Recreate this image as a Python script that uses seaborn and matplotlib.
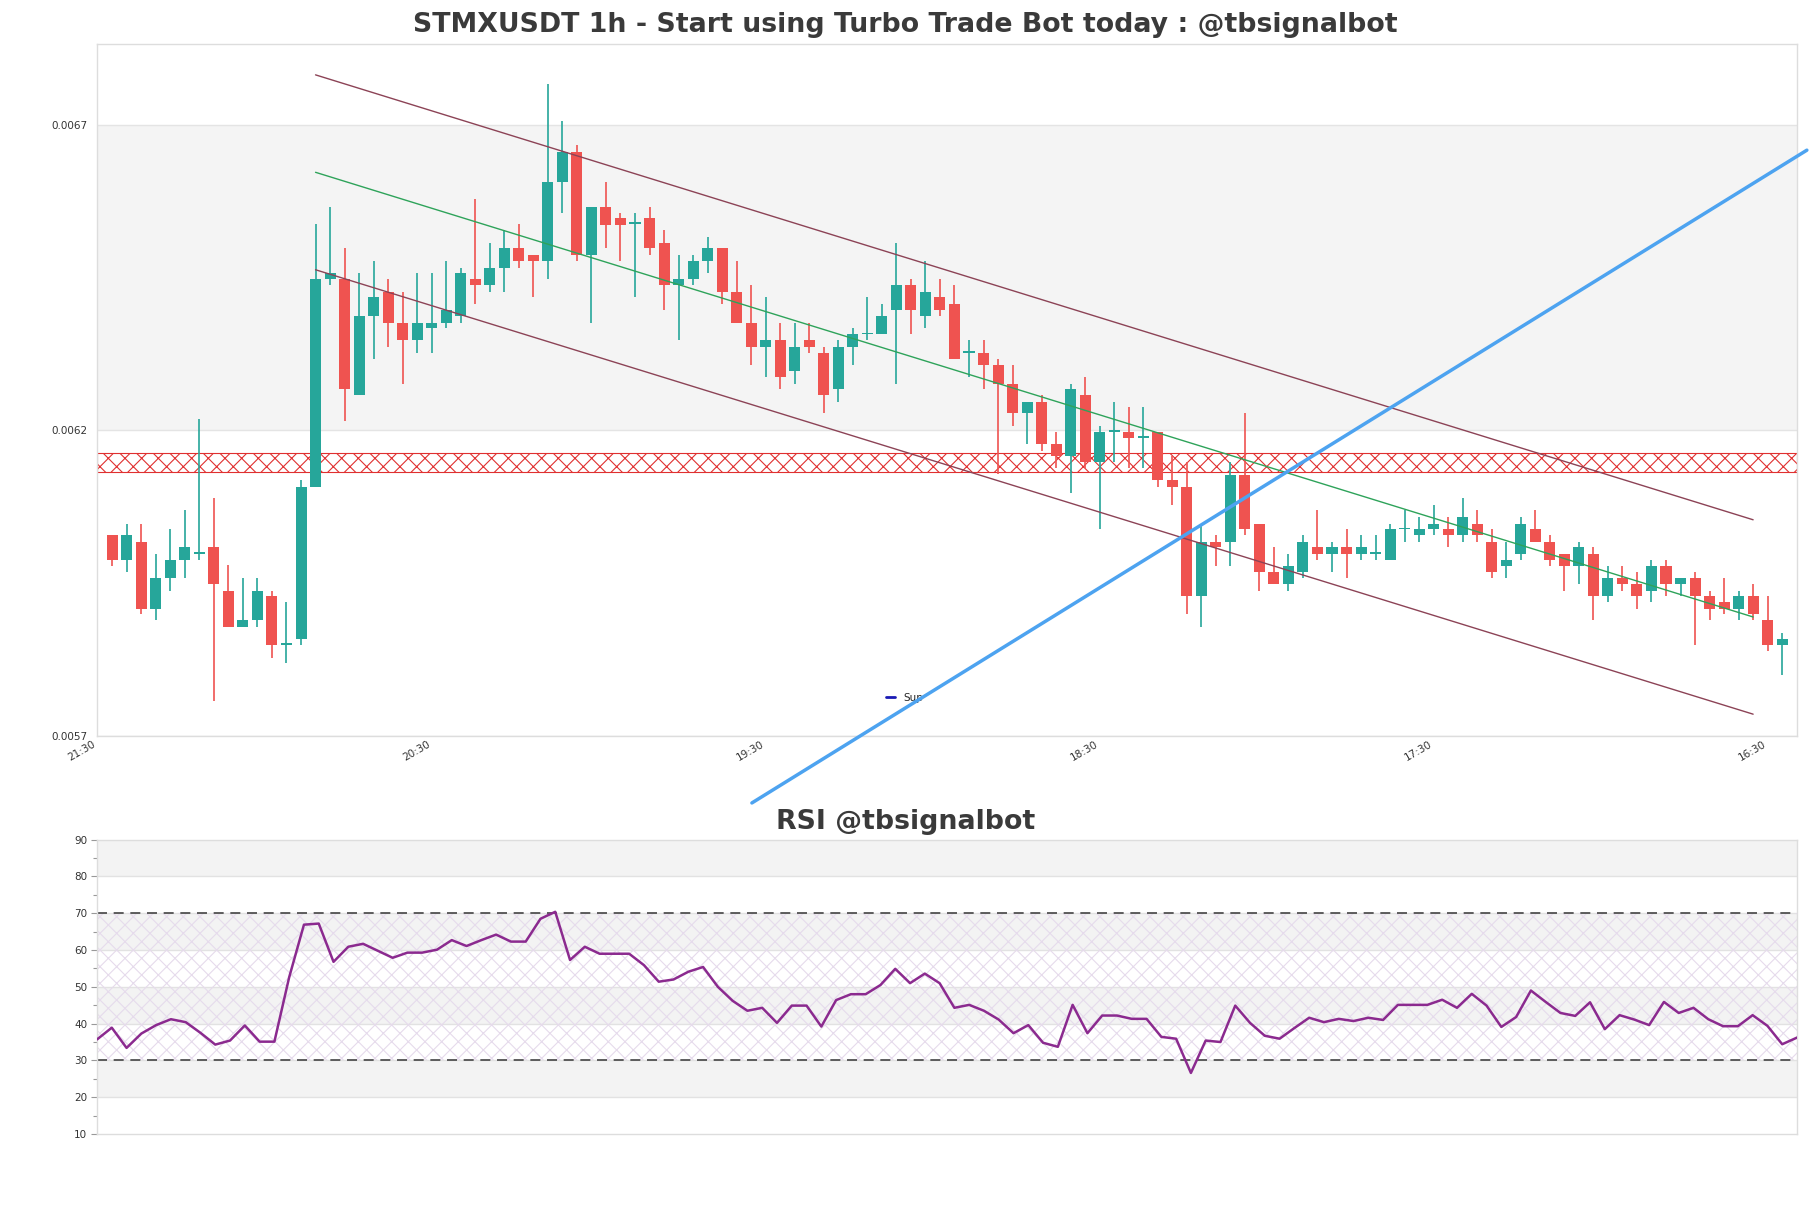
import numpy as np
import pandas as pd
import matplotlib
matplotlib.use("Agg")
import matplotlib.pyplot as plt
from matplotlib.lines import Line2D
import seaborn as sns

# ---------------- data ----------------
opens = [0.006028, 0.005988, 0.006018, 0.005908, 0.005958, 0.005988, 0.005998, 0.006009, 0.005938, 0.005878,
         0.005889, 0.005929, 0.005849, 0.005858, 0.006107, 0.006447, 0.006447, 0.006257, 0.006387, 0.006427,
         0.006376, 0.006347, 0.006367, 0.006376, 0.006387, 0.006447, 0.006437, 0.006466, 0.006498, 0.006487,
         0.006477, 0.006607, 0.006656, 0.006487, 0.006566, 0.006547, 0.006538, 0.006547, 0.006507, 0.006437,
         0.006447, 0.006477, 0.006498, 0.006427, 0.006376, 0.006337, 0.006347, 0.006297, 0.006347, 0.006327,
         0.006267, 0.006337, 0.006357, 0.006357, 0.006397, 0.006437, 0.006387, 0.006418, 0.006407, 0.006327,
         0.006327, 0.006307, 0.006276, 0.006228, 0.006247, 0.006177, 0.006158, 0.006257, 0.006148, 0.006198,
         0.006198, 0.006188, 0.006198, 0.006118, 0.006107, 0.005929, 0.006018, 0.006018, 0.006127, 0.006047,
         0.005969, 0.005948, 0.005969, 0.006009, 0.005998, 0.006009, 0.005998, 0.005998, 0.005988, 0.006038,
         0.006028, 0.006038, 0.006038, 0.006028, 0.006047, 0.006018, 0.005978, 0.005998, 0.006038, 0.006018,
         0.005998, 0.005978, 0.005998, 0.005929, 0.005958, 0.005948, 0.005938, 0.005978, 0.005948, 0.005958,
         0.005929, 0.005919, 0.005908, 0.005929, 0.005889, 0.005849]
highs = [0.006028, 0.006047, 0.006047, 0.005998, 0.006038, 0.006069, 0.006218, 0.006089, 0.005979, 0.005958,
         0.005958, 0.005938, 0.005919, 0.006118, 0.006538, 0.006566, 0.006498, 0.006457, 0.006477, 0.006447,
         0.006427, 0.006457, 0.006457, 0.006477, 0.006466, 0.006578, 0.006507, 0.006527, 0.006538, 0.006487,
         0.006766, 0.006706, 0.006666, 0.006566, 0.006607, 0.006556, 0.006556, 0.006566, 0.006527, 0.006487,
         0.006487, 0.006517, 0.006498, 0.006477, 0.006437, 0.006418, 0.006376, 0.006376, 0.006376, 0.006337,
         0.006347, 0.006367, 0.006418, 0.006407, 0.006507, 0.006447, 0.006477, 0.006447, 0.006437, 0.006347,
         0.006347, 0.006317, 0.006307, 0.006247, 0.006257, 0.006198, 0.006276, 0.006287, 0.006207, 0.006247,
         0.006238, 0.006238, 0.006198, 0.006158, 0.006148, 0.006047, 0.006028, 0.006148, 0.006228, 0.006047,
         0.006009, 0.005998, 0.006028, 0.006069, 0.006018, 0.006038, 0.006028, 0.006028, 0.006047, 0.006069,
         0.006058, 0.006078, 0.006058, 0.006089, 0.006069, 0.006038, 0.006018, 0.006058, 0.006069, 0.006028,
         0.005998, 0.006018, 0.006009, 0.005978, 0.005978, 0.005969, 0.005988, 0.005988, 0.005958, 0.005969,
         0.005938, 0.005958, 0.005938, 0.005948, 0.005929, 0.005868]
lows = [0.005978, 0.005969, 0.005899, 0.005889, 0.005938, 0.005958, 0.005988, 0.005758, 0.005878, 0.005878,
        0.005878, 0.005828, 0.005819, 0.005849, 0.006107, 0.006437, 0.006216, 0.006257, 0.006317, 0.006337,
        0.006276, 0.006327, 0.006327, 0.006367, 0.006376, 0.006407, 0.006427, 0.006427, 0.006466, 0.006418,
        0.006447, 0.006556, 0.006477, 0.006376, 0.006498, 0.006477, 0.006418, 0.006487, 0.006397, 0.006347,
        0.006437, 0.006457, 0.006407, 0.006376, 0.006307, 0.006287, 0.006267, 0.006276, 0.006327, 0.006228,
        0.006247, 0.006307, 0.006347, 0.006357, 0.006276, 0.006357, 0.006367, 0.006387, 0.006317, 0.006287,
        0.006267, 0.006129, 0.006207, 0.006177, 0.006167, 0.006138, 0.006098, 0.006138, 0.006038, 0.006148,
        0.006138, 0.006138, 0.006107, 0.006078, 0.005899, 0.005878, 0.005978, 0.005978, 0.006028, 0.005938,
        0.005948, 0.005938, 0.005958, 0.005988, 0.005969, 0.005958, 0.005988, 0.005988, 0.005988, 0.006018,
        0.006018, 0.006028, 0.006009, 0.006018, 0.006018, 0.005958, 0.005958, 0.005988, 0.006018, 0.005978,
        0.005938, 0.005948, 0.005889, 0.005919, 0.005938, 0.005908, 0.005919, 0.005929, 0.005929, 0.005849,
        0.005889, 0.005899, 0.005889, 0.005889, 0.005839, 0.005799]
closes = [0.005988, 0.006028, 0.005908, 0.005958, 0.005988, 0.006009, 0.005998, 0.005948, 0.005878, 0.005889,
          0.005938, 0.005849, 0.005849, 0.006107, 0.006447, 0.006457, 0.006267, 0.006387, 0.006418, 0.006376,
          0.006347, 0.006376, 0.006376, 0.006397, 0.006457, 0.006437, 0.006466, 0.006498, 0.006477, 0.006477,
          0.006607, 0.006656, 0.006487, 0.006566, 0.006536, 0.006536, 0.006538, 0.006498, 0.006437, 0.006447,
          0.006477, 0.006498, 0.006427, 0.006376, 0.006337, 0.006347, 0.006287, 0.006337, 0.006337, 0.006257,
          0.006337, 0.006357, 0.006357, 0.006387, 0.006437, 0.006397, 0.006427, 0.006397, 0.006317, 0.006327,
          0.006307, 0.006276, 0.006228, 0.006247, 0.006177, 0.006158, 0.006267, 0.006148, 0.006198, 0.006198,
          0.006188, 0.006188, 0.006118, 0.006107, 0.005929, 0.006018, 0.006009, 0.006127, 0.006038, 0.005969,
          0.005948, 0.005978, 0.006018, 0.005998, 0.006009, 0.005998, 0.006009, 0.005998, 0.006038, 0.006038,
          0.006038, 0.006047, 0.006028, 0.006058, 0.006028, 0.005969, 0.005988, 0.006047, 0.006018, 0.005988,
          0.005978, 0.006009, 0.005929, 0.005958, 0.005948, 0.005929, 0.005978, 0.005948, 0.005958, 0.005929,
          0.005908, 0.005908, 0.005929, 0.005899, 0.005849, 0.005858]

rsi = [35.7, 38.9, 33.4, 37.3, 39.6, 41.2, 40.4, 37.5, 34.3, 35.4,
       39.5, 35.1, 35.1, 52.6, 66.9, 67.2, 56.8, 60.9, 61.7, 59.8,
       57.9, 59.3, 59.3, 60.1, 62.7, 61.1, 62.7, 64.2, 62.3, 62.3,
       68.5, 70.4, 57.3, 60.9, 59.0, 59.0, 59.0, 55.9, 51.4, 52.0,
       54.1, 55.4, 50.0, 46.2, 43.5, 44.3, 40.2, 44.9, 44.9, 39.2,
       46.4, 48.0, 48.0, 50.5, 54.9, 51.0, 53.6, 51.0, 44.3, 45.1,
       43.5, 41.1, 37.4, 39.6, 34.8, 33.7, 45.1, 37.4, 42.2, 42.2,
       41.3, 41.3, 36.4, 35.9, 26.6, 35.4, 35.0, 44.9, 40.2, 36.7,
       35.9, 38.8, 41.6, 40.4, 41.3, 40.7, 41.6, 41.0, 45.1, 45.1,
       45.1, 46.5, 44.3, 48.1, 44.9, 39.1, 41.8, 49.0, 45.9, 42.9,
       42.1, 45.8, 38.5, 42.3, 41.1, 39.6, 45.9, 42.9, 44.3, 41.2,
       39.3, 39.3, 42.3, 39.4, 34.4, 36.2]

tick_labels = ["21:30", "20:30", "19:30", "18:30", "17:30", "16:30"]
tick_index = [-1, 22, 45, 68, 91, 114]
price_ticks = [0.0057, 0.0062, 0.0067]

# channel lines: (start index, end index) and (start price, end price)
chan_x = [14, 113]
upper_line = [0.0067815, 0.0060537]
middle_line = [0.0066221, 0.0058947]
lower_line = [0.0064627, 0.0057357]
sup_x = [44.05, 116.7]
sup_line = [0.0055905, 0.0066583]
zone_band = [0.0061323, 0.0061629]
grey_band = [0.0062, 0.0067]

title = "STMXUSDT 1h - Start using Turbo Trade Bot today : @tbsignalbot"
rsi_title = "RSI @tbsignalbot"

# ---------------- plotting ----------------
sns.set_theme(style="white")
plt.rcParams["font.family"] = ["DejaVu Sans"]
plt.rcParams["hatch.linewidth"] = 0.8

df = pd.DataFrame({"open": opens, "high": highs, "low": lows, "close": closes})
df["idx"] = np.arange(len(df))
up = df["close"] >= df["open"]
green = "#26a69a"
red = "#ef5350"
colors = np.where(up, green, red)

fig = plt.figure(figsize=(18.11, 12.08), dpi=100)
ax = fig.add_axes([0.05356, 0.39073, 0.9387, 0.57285])
ax2 = fig.add_axes([0.05356, 0.06126, 0.9387, 0.24363])

spine_col = "#dddddd"
for a in (ax, ax2):
    for s in a.spines.values():
        s.set_color(spine_col)
        s.set_linewidth(1.0)
    a.set_facecolor("white")

# main chart
ax.axhspan(grey_band[0], grey_band[1], color="#f4f4f4", zorder=0, lw=0)
ax.axhspan(zone_band[0], zone_band[1], facecolor="none", edgecolor="#e03030",
           hatch="xx", lw=0.8, zorder=1)
for p in price_ticks:
    ax.axhline(p, color="#e4e4e4", lw=1.0, zorder=0.5)

ax.vlines(df["idx"], df["low"], df["high"], colors=colors, lw=1.2, zorder=3)
body_bottom = np.minimum(df["open"], df["close"])
body_height = np.maximum(np.abs(df["close"] - df["open"]), 2.5e-6)
ax.bar(df["idx"], body_height, bottom=body_bottom, width=0.76, color=colors,
       lw=0, zorder=4)

ax.plot(chan_x, upper_line, color="#8c4356", lw=1.0, zorder=5)
ax.plot(chan_x, lower_line, color="#8c4356", lw=1.0, zorder=5)
ax.plot(chan_x, middle_line, color="#2ea35a", lw=1.0, zorder=5)
ax.plot(sup_x, sup_line, color="#4da3f0", lw=2.5, zorder=6, clip_on=False)

ax.set_xlim(-1.05, 116.02)
ax.set_ylim(0.0057, 0.006832)
ax.set_yticks(price_ticks)
ax.set_yticklabels([f"{p:.4f}" for p in price_ticks])
ax.set_xticks(tick_index)
ax.set_xticklabels(tick_labels, rotation=30, ha="right", va="top")
ax.tick_params(axis="y", length=0, pad=7, labelsize=7.5, labelcolor="#333333")
ax.tick_params(axis="x", length=0, pad=2, labelsize=7.5, labelcolor="#333333")
ax.grid(False)

ax.legend(handles=[Line2D([], [], color="#1a1ab4", lw=2, label="Sup")],
          loc="center", bbox_to_anchor=(0.475, 0.0556), frameon=False,
          fontsize=7.5, handlelength=0.8, handletextpad=0.8)

# RSI chart
for lo, hi in [(80, 90), (60, 70), (40, 50), (20, 30)]:
    ax2.axhspan(lo, hi, color="#f3f3f3", lw=0, zorder=0)
for v in range(20, 90, 10):
    ax2.axhline(v, color="#e2e2e2", lw=1.0, zorder=0.5)
ax2.axhspan(30, 70, facecolor="none", edgecolor="#e6dbec", hatch="xx", lw=0, zorder=1)
ax2.axhline(70, color="#444444", lw=1.2, ls=(0, (6, 4)), zorder=2)
ax2.axhline(30, color="#444444", lw=1.2, ls=(0, (6, 4)), zorder=2)
rsi_df = pd.DataFrame({"x": np.arange(len(rsi)), "rsi": rsi})
sns.lineplot(data=rsi_df, x="x", y="rsi", ax=ax2, color="#8b2a8f", lw=1.8, zorder=5)
ax2.set_xlim(0, len(rsi) - 1)
ax2.set_ylim(10, 90)
ax2.set_yticks(range(10, 91, 10))
ax2.set_yticks(range(15, 90, 10), minor=True)
ax2.set_xticks([])
ax2.set_xlabel("")
ax2.set_ylabel("")
ax2.tick_params(axis="y", which="major", left=True, length=4, width=0.8, color="#999999",
                labelsize=7.5, labelcolor="#333333", pad=3)
ax2.tick_params(axis="y", which="minor", left=True, length=3, width=0.8, color="#999999")
ax2.grid(False)

fig.text(0.5, 0.979, title, ha="center", va="center", fontsize=19.3,
         fontweight="bold", color="#3a3a3a")
fig.text(0.5, 0.3195, rsi_title, ha="center", va="center", fontsize=19.3,
         fontweight="bold", color="#3a3a3a")

fig.savefig("out.png", dpi=100, facecolor="white")
